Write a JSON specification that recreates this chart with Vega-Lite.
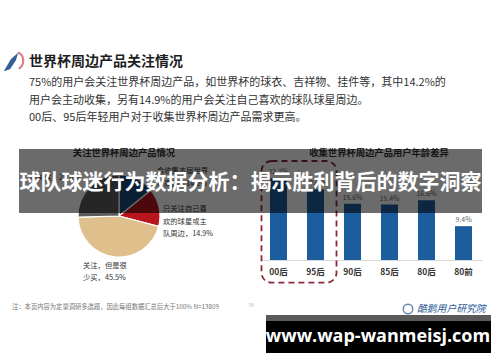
{
  "$schema": "https://vega.github.io/schema/vega-lite/v6.json",
  "width": 500,
  "height": 362,
  "padding": 0,
  "autosize": {"type": "none"},
  "background": "#ffffff",
  "config": {"view": {"stroke": null}, "font": "Noto Sans CJK SC"},
  "resolve": {
    "scale": {"x": "independent", "y": "independent", "color": "independent", "theta": "independent"},
    "axis": {"x": "independent", "y": "independent"}
  },
  "layer": [
    {
      "data": {"values": [{"t": "icon"}]},
      "mark": {"type": "point", "shape": "M-0.9,0.9 L-0.2,-0.3 L0.5,-0.9 L0.3,-0.2 L-0.3,0.7 Z", "size": 420, "filled": true, "color": "#1d4f8c", "opacity": 0.9},
      "encoding": {
        "x": {"datum": 13, "type": "quantitative", "scale": {"domain": [0, 500], "range": [0, 500], "nice": false, "zero": false}, "axis": null},
        "y": {"datum": 62, "type": "quantitative", "scale": {"domain": [0, 362], "range": [0, 362], "nice": false, "zero": false}, "axis": null}
      }
    },
    {
      "data": {"values": [{"t": "icon2"}]},
      "mark": {"type": "point", "shape": "M0.2,-0.9 C0.9,-0.6 0.9,0.4 0.3,0.8", "size": 380, "filled": false, "stroke": "#d2485a", "strokeWidth": 2.2},
      "encoding": {
        "x": {"datum": 16, "type": "quantitative", "scale": {"domain": [0, 500], "range": [0, 500], "nice": false, "zero": false}, "axis": null},
        "y": {"datum": 61, "type": "quantitative", "scale": {"domain": [0, 362], "range": [0, 362], "nice": false, "zero": false}, "axis": null}
      }
    },
    {
      "data": {"values": [{"t": "世界杯周边产品关注情况"}]},
      "mark": {"type": "text", "align": "left", "baseline": "middle", "fontSize": 14, "fontWeight": "bold", "color": "#1e1e1e", "font": "Noto Sans CJK SC"},
      "encoding": {
        "text": {"field": "t"},
        "x": {"datum": 29, "type": "quantitative", "scale": {"domain": [0, 500], "range": [0, 500], "nice": false, "zero": false}, "axis": null},
        "y": {"datum": 62, "type": "quantitative", "scale": {"domain": [0, 362], "range": [0, 362], "nice": false, "zero": false}, "axis": null}
      }
    },
    {
      "data": {"values": [
        {"line": 1, "t": "75%的用户会关注世界杯周边产品，如世界杯的球衣、吉祥物、挂件等，其中14.2%的"},
        {"line": 2, "t": "用户会主动收集，另有14.9%的用户会关注自己喜欢的球队球星周边。"},
        {"line": 3, "t": "00后、95后年轻用户对于收集世界杯周边产品需求更高。"}
      ]},
      "mark": {"type": "text", "align": "left", "baseline": "middle", "fontSize": 11, "color": "#333333", "font": "Noto Sans CJK SC"},
      "encoding": {
        "text": {"field": "t"},
        "x": {"datum": 29, "type": "quantitative", "scale": {"domain": [0, 500], "range": [0, 500], "nice": false, "zero": false}, "axis": null},
        "y": {"field": "line", "type": "quantitative", "scale": {"domain": [1, 3], "range": [83, 118], "nice": false, "zero": false}, "axis": null}
      }
    },
    {
      "data": {"values": [{"t": "关注世界杯周边产品情况"}]},
      "mark": {"type": "text", "align": "center", "baseline": "middle", "fontSize": 9.3, "fontWeight": "bold", "color": "#333333"},
      "encoding": {
        "text": {"field": "t"},
        "x": {"datum": 124, "type": "quantitative", "scale": {"domain": [0, 500], "range": [0, 500], "nice": false, "zero": false}, "axis": null},
        "y": {"datum": 153, "type": "quantitative", "scale": {"domain": [0, 362], "range": [0, 362], "nice": false, "zero": false}, "axis": null}
      }
    },
    {
      "data": {"values": [{"t": "收集世界杯周边产品用户年龄差异"}]},
      "mark": {"type": "text", "align": "center", "baseline": "middle", "fontSize": 9.3, "fontWeight": "bold", "color": "#333333"},
      "encoding": {
        "text": {"field": "t"},
        "x": {"datum": 379, "type": "quantitative", "scale": {"domain": [0, 500], "range": [0, 500], "nice": false, "zero": false}, "axis": null},
        "y": {"datum": 153, "type": "quantitative", "scale": {"domain": [0, 362], "range": [0, 362], "nice": false, "zero": false}, "axis": null}
      }
    },
    {
      "data": {"values": [
        {"k": 1, "cat": "会收集本届世界杯周边", "pct": 14.2},
        {"k": 2, "cat": "只关注自己喜欢的球星或主队周边", "pct": 14.9},
        {"k": 3, "cat": "关注，但是很少买", "pct": 45.5},
        {"k": 4, "cat": "不关注", "pct": 25.4}
      ]},
      "mark": {"type": "arc", "outerRadius": 41, "stroke": "#ffffff", "strokeWidth": 1.2},
      "encoding": {
        "theta": {"field": "pct", "type": "quantitative", "stack": true},
        "order": {"field": "k", "type": "quantitative"},
        "color": {"field": "cat", "type": "nominal", "legend": null,
          "scale": {"domain": ["会收集本届世界杯周边", "只关注自己喜欢的球星或主队周边", "关注，但是很少买", "不关注"],
                    "range": ["#1c4a7c", "#b8151d", "#dfc08d", "#5c5c5c"]}},
        "x": {"datum": 119, "type": "quantitative", "scale": {"domain": [0, 500], "range": [0, 500], "nice": false, "zero": false}, "axis": null},
        "y": {"datum": 216, "type": "quantitative", "scale": {"domain": [0, 362], "range": [0, 362], "nice": false, "zero": false}, "axis": null}
      }
    },
    {
      "data": {"values": [{"t": "会收集本届世界\n杯周边，14.2%"}]},
      "mark": {"type": "text", "align": "left", "baseline": "middle", "fontSize": 7.3, "lineBreak": "\n", "lineHeight": 12.5, "color": "#333333"},
      "encoding": {
        "text": {"field": "t"},
        "x": {"datum": 157, "type": "quantitative", "scale": {"domain": [0, 500], "range": [0, 500], "nice": false, "zero": false}, "axis": null},
        "y": {"datum": 171, "type": "quantitative", "scale": {"domain": [0, 362], "range": [0, 362], "nice": false, "zero": false}, "axis": null}
      }
    },
    {
      "data": {"values": [{"t": "只关注自己喜\n欢的球星或主\n队周边，14.9%"}]},
      "mark": {"type": "text", "align": "left", "baseline": "middle", "fontSize": 7.3, "lineBreak": "\n", "lineHeight": 12.5, "color": "#333333"},
      "encoding": {
        "text": {"field": "t"},
        "x": {"datum": 163, "type": "quantitative", "scale": {"domain": [0, 500], "range": [0, 500], "nice": false, "zero": false}, "axis": null},
        "y": {"datum": 209, "type": "quantitative", "scale": {"domain": [0, 362], "range": [0, 362], "nice": false, "zero": false}, "axis": null}
      }
    },
    {
      "data": {"values": [{"t": "关注，但是很\n少买，45.5%"}]},
      "mark": {"type": "text", "align": "left", "baseline": "middle", "fontSize": 7.3, "lineBreak": "\n", "lineHeight": 11.5, "color": "#333333"},
      "encoding": {
        "text": {"field": "t"},
        "x": {"datum": 83, "type": "quantitative", "scale": {"domain": [0, 500], "range": [0, 500], "nice": false, "zero": false}, "axis": null},
        "y": {"datum": 266, "type": "quantitative", "scale": {"domain": [0, 362], "range": [0, 362], "nice": false, "zero": false}, "axis": null}
      }
    },
    {
      "data": {"values": [{"t": "不关注，25.4%"}]},
      "mark": {"type": "text", "align": "right", "baseline": "middle", "fontSize": 7.3, "color": "#333333"},
      "encoding": {
        "text": {"field": "t"},
        "x": {"datum": 80, "type": "quantitative", "scale": {"domain": [0, 500], "range": [0, 500], "nice": false, "zero": false}, "axis": null},
        "y": {"datum": 178, "type": "quantitative", "scale": {"domain": [0, 362], "range": [0, 362], "nice": false, "zero": false}, "axis": null}
      }
    },
    {
      "data": {"values": [
        {"age": "00后", "value": 22.7},
        {"age": "95后", "value": 19.6},
        {"age": "90后", "value": 15.6},
        {"age": "85后", "value": 15.4},
        {"age": "80后", "value": 16.6},
        {"age": "80前", "value": 9.4}
      ]},
      "mark": {"type": "bar", "color": "#1b5d9d"},
      "encoding": {
        "x": {"field": "age", "type": "nominal", "sort": null,
          "scale": {"domain": ["00后", "95后", "90后", "85后", "80后", "80前"], "range": [260, 482], "paddingInner": 0.54, "paddingOuter": 0.27},
          "axis": {"title": null, "offset": -102, "ticks": false, "labelAngle": 0, "labelPadding": 7, "labelFontSize": 8.5, "labelFontWeight": "bold", "labelColor": "#333333", "domainColor": "#d9d9d9", "domainWidth": 1, "labelFont": "Noto Sans CJK SC"}},
        "y": {"field": "value", "type": "quantitative", "scale": {"domain": [0, 25], "range": [260, 170], "nice": false, "zero": false}, "axis": null}
      }
    },
    {
      "data": {"values": [
        {"age": "00后", "value": 22.7},
        {"age": "95后", "value": 19.6},
        {"age": "90后", "value": 15.6},
        {"age": "85后", "value": 15.4},
        {"age": "80后", "value": 16.6},
        {"age": "80前", "value": 9.4}
      ]},
      "transform": [{"calculate": "format(datum.value, '.1f') + '%'", "as": "label"}],
      "mark": {"type": "text", "baseline": "bottom", "dy": -3, "fontSize": 7, "color": "#666666"},
      "encoding": {
        "text": {"field": "label"},
        "x": {"field": "age", "type": "nominal", "sort": null,
          "scale": {"domain": ["00后", "95后", "90后", "85后", "80后", "80前"], "range": [260, 482], "paddingInner": 0.54, "paddingOuter": 0.27}, "axis": null},
        "y": {"field": "value", "type": "quantitative", "scale": {"domain": [0, 25], "range": [260, 170], "nice": false, "zero": false}, "axis": null}
      }
    },
    {
      "data": {"values": [{"from": "00后", "to": "95后"}]},
      "mark": {"type": "rect", "filled": false, "stroke": "#8c2a3c", "strokeWidth": 1.8, "strokeDash": [6, 4], "cornerRadius": 10, "xOffset": -17, "x2Offset": 21},
      "encoding": {
        "x": {"field": "from", "type": "nominal",
          "scale": {"domain": ["00后", "95后", "90后", "85后", "80后", "80前"], "range": [260, 482], "paddingInner": 0.54, "paddingOuter": 0.27}, "axis": null},
        "x2": {"field": "to"},
        "y": {"datum": 27.5, "type": "quantitative", "scale": {"domain": [0, 25], "range": [260, 170], "nice": false, "zero": false}, "axis": null},
        "y2": {"datum": -6.3}
      }
    },
    {
      "data": {"values": [{"t": "注：本页内容为定量调研多选题，因此每组数据汇总后大于100% N=13809"}]},
      "mark": {"type": "text", "align": "left", "baseline": "middle", "fontSize": 6.3, "color": "#777777"},
      "encoding": {
        "text": {"field": "t"},
        "x": {"datum": 12, "type": "quantitative", "scale": {"domain": [0, 500], "range": [0, 500], "nice": false, "zero": false}, "axis": null},
        "y": {"datum": 307, "type": "quantitative", "scale": {"domain": [0, 362], "range": [0, 362], "nice": false, "zero": false}, "axis": null}
      }
    },
    {
      "data": {"values": [{"t": "34"}]},
      "mark": {"type": "text", "align": "center", "baseline": "middle", "fontSize": 5, "color": "#bbbbbb"},
      "encoding": {
        "text": {"field": "t"},
        "x": {"datum": 251, "type": "quantitative", "scale": {"domain": [0, 500], "range": [0, 500], "nice": false, "zero": false}, "axis": null},
        "y": {"datum": 305, "type": "quantitative", "scale": {"domain": [0, 362], "range": [0, 362], "nice": false, "zero": false}, "axis": null}
      }
    },
    {
      "data": {"values": [{"t": "酷鹅用户研究院"}]},
      "mark": {"type": "text", "align": "left", "baseline": "middle", "fontSize": 9.8, "fontStyle": "italic", "color": "#2b5c96"},
      "encoding": {
        "text": {"field": "t"},
        "x": {"datum": 417, "type": "quantitative", "scale": {"domain": [0, 500], "range": [0, 500], "nice": false, "zero": false}, "axis": null},
        "y": {"datum": 309, "type": "quantitative", "scale": {"domain": [0, 362], "range": [0, 362], "nice": false, "zero": false}, "axis": null}
      }
    },
    {
      "data": {"values": [{"t": "logo"}]},
      "mark": {"type": "point", "shape": "circle", "size": 90, "filled": false, "stroke": "#2b5c96", "strokeWidth": 1.5},
      "encoding": {
        "x": {"datum": 408, "type": "quantitative", "scale": {"domain": [0, 500], "range": [0, 500], "nice": false, "zero": false}, "axis": null},
        "y": {"datum": 309, "type": "quantitative", "scale": {"domain": [0, 362], "range": [0, 362], "nice": false, "zero": false}, "axis": null}
      }
    },
    {
      "data": {"values": [{"t": "band"}]},
      "mark": {"type": "rect", "color": "#000000", "opacity": 0.58},
      "encoding": {
        "x": {"datum": 19, "type": "quantitative", "scale": {"domain": [0, 500], "range": [0, 500], "nice": false, "zero": false}, "axis": null},
        "x2": {"datum": 482},
        "y": {"datum": 149, "type": "quantitative", "scale": {"domain": [0, 362], "range": [0, 362], "nice": false, "zero": false}, "axis": null},
        "y2": {"datum": 213}
      }
    },
    {
      "data": {"values": [{"t": "球队球迷行为数据分析：揭示胜利背后的数字洞察"}]},
      "mark": {"type": "text", "align": "center", "baseline": "middle", "fontSize": 21, "fontWeight": "bold", "color": "#ffffff", "font": "Noto Sans CJK SC"},
      "encoding": {
        "text": {"field": "t"},
        "x": {"datum": 250.5, "type": "quantitative", "scale": {"domain": [0, 500], "range": [0, 500], "nice": false, "zero": false}, "axis": null},
        "y": {"datum": 183, "type": "quantitative", "scale": {"domain": [0, 362], "range": [0, 362], "nice": false, "zero": false}, "axis": null}
      }
    },
    {
      "data": {"values": [{"t": "strip"}]},
      "mark": {"type": "rect", "color": "#5a5a5a"},
      "encoding": {
        "x": {"datum": 266, "type": "quantitative", "scale": {"domain": [0, 500], "range": [0, 500], "nice": false, "zero": false}, "axis": null},
        "x2": {"datum": 491},
        "y": {"datum": 315, "type": "quantitative", "scale": {"domain": [0, 362], "range": [0, 362], "nice": false, "zero": false}, "axis": null},
        "y2": {"datum": 321}
      }
    },
    {
      "data": {"values": [{"t": "box"}]},
      "mark": {"type": "rect", "color": "#000000"},
      "encoding": {
        "x": {"datum": 266, "type": "quantitative", "scale": {"domain": [0, 500], "range": [0, 500], "nice": false, "zero": false}, "axis": null},
        "x2": {"datum": 491},
        "y": {"datum": 321, "type": "quantitative", "scale": {"domain": [0, 362], "range": [0, 362], "nice": false, "zero": false}, "axis": null},
        "y2": {"datum": 353}
      }
    },
    {
      "data": {"values": [{"t": "www.wap-wanmeisj.com"}]},
      "mark": {"type": "text", "align": "center", "baseline": "middle", "fontSize": 18, "fontWeight": "bold", "color": "#ffffff", "font": "Open Sans"},
      "encoding": {
        "text": {"field": "t"},
        "x": {"datum": 378, "type": "quantitative", "scale": {"domain": [0, 500], "range": [0, 500], "nice": false, "zero": false}, "axis": null},
        "y": {"datum": 337, "type": "quantitative", "scale": {"domain": [0, 362], "range": [0, 362], "nice": false, "zero": false}, "axis": null}
      }
    }
  ]
}
